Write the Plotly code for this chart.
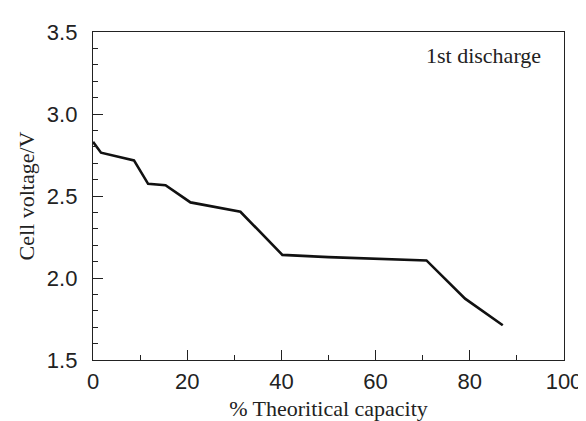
import plotly.graph_objects as go

capacity = [0.0, 1.7, 8.7, 11.7, 15.4, 20.7, 31.3, 40.2, 50.0, 70.8, 79.0, 87.0]
voltage = [2.83, 2.764, 2.717, 2.574, 2.566, 2.461, 2.404, 2.141, 2.127, 2.107, 1.874, 1.712]

x_ticks = [0, 20, 40, 60, 80, 100]
y_ticks = [1.5, 2.0, 2.5, 3.0, 3.5]
y_tick_labels = ["1.5", "2.0", "2.5", "3.0", "3.5"]
annotation_text = "1st discharge"

SERIF = "Liberation Serif, Times New Roman, serif"
SANS = "Liberation Sans, Arial, sans-serif"
INK = "#222222"

fig = go.Figure()
fig.add_trace(go.Scatter(x=capacity, y=voltage, mode="lines",
                         line=dict(color="#111111", width=2.6), showlegend=False))

axis_common = dict(
    showgrid=False, zeroline=False, showline=True, linecolor=INK, linewidth=1.3,
    mirror=True, ticks="inside", tickcolor=INK, tickwidth=1.2, ticklen=10,
    tickfont=dict(family=SANS, size=22, color=INK),
)

fig.update_xaxes(range=[0, 100], tickvals=x_ticks, ticktext=[str(v) for v in x_ticks],
                 minor=dict(ticks="inside", dtick=10, ticklen=5, tickcolor=INK, tickwidth=1.2),
                 title=dict(text="% Theoritical capacity",
                            font=dict(family=SERIF, size=22, color=INK), standoff=8),
                 ticklabelstandoff=1,
                 **axis_common)
fig.update_yaxes(range=[1.5, 3.5], tickvals=y_ticks, ticktext=y_tick_labels,
                 minor=dict(ticks="inside", dtick=0.1, ticklen=5, tickcolor=INK, tickwidth=1.2),
                 title=dict(text="Cell voltage/V",
                            font=dict(family=SERIF, size=22, color=INK), standoff=6),
                 ticklabelstandoff=10,
                 **axis_common)

fig.add_annotation(x=0.956, y=0.929, xref="paper", yref="paper", text=annotation_text,
                   showarrow=False, xanchor="right", yanchor="middle",
                   font=dict(family=SERIF, size=22, color=INK))

fig.update_layout(width=586, height=421, paper_bgcolor="white", plot_bgcolor="white",
                  margin=dict(l=85, r=22, t=21, b=62))

fig.write_html("out.html")
